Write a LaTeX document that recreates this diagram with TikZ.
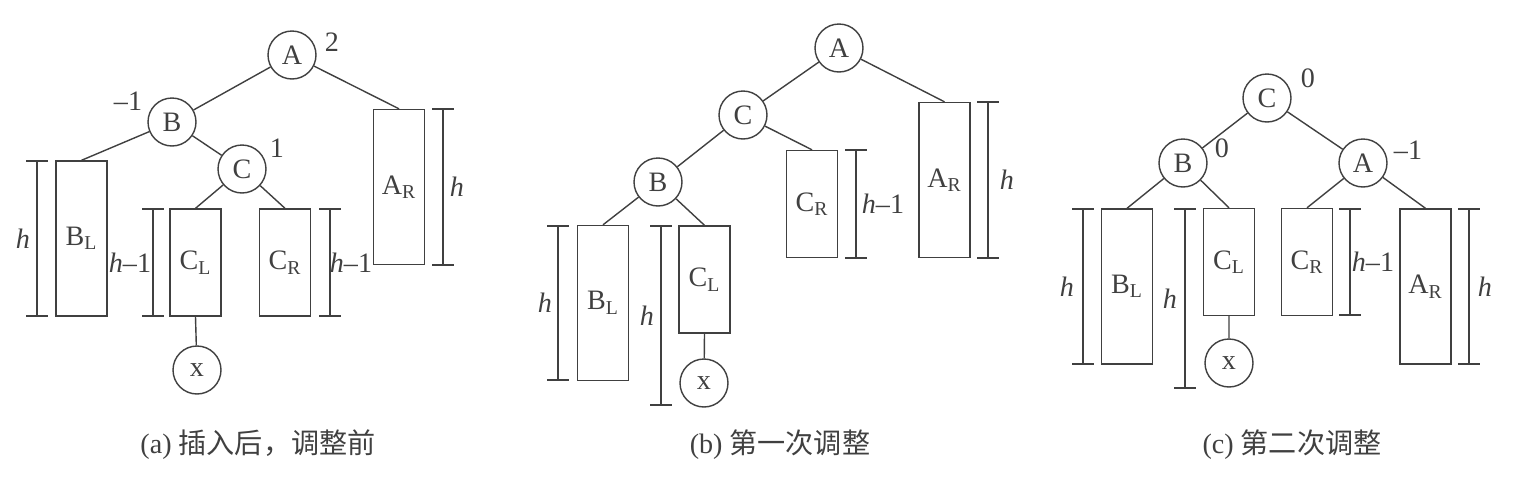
\documentclass[tikz,border=0pt]{standalone}
\usepackage{fontspec}
\setmainfont{Liberation Serif}
\newfontfamily\cjk{Noto Sans CJK SC}
\tikzset{
  vtx/.style={draw,circle,minimum size=0.96cm,inner sep=0pt},
  tallbox/.style={draw,rectangle,minimum width=1.02cm,minimum height=3.1cm,inner sep=0pt},
  shortbox/.style={draw,rectangle,minimum width=1.02cm,minimum height=2.14cm,inner sep=0pt},
}
\newcommand{\sub}[2]{#1\textsubscript{#2}}
% height mark: x, top, bottom, label x, label
\newcommand{\hmark}[5]{%
  \draw (#1-11,#2)--(#1+11,#2) (#1-11,#3)--(#1+11,#3) (#1,#2)--(#1,#3);
  \node at (#4,{(#2+#3)/2}) {#5};}
\begin{document}
\begin{tikzpicture}[x=0.02cm,y=-0.02cm,font=\fontsize{16}{19}\selectfont,
  color=black!75,line width=0.8pt]
\useasboundingbox (0,0) rectangle (1519,491);
% (a)
\node[vtx] (aA) at (292,55) {A};
\node[vtx] (aB) at (172,122) {B};
\node[vtx] (aC) at (242,169) {C};
\node[vtx] (ax) at (197,370) {x};
\node[tallbox] (aBL) at (81.5,238.5) {\sub{B}{L}};
\node[shortbox] (aCL) at (195.5,262.5) {\sub{C}{L}};
\node[shortbox] (aCR) at (285,262.5) {\sub{C}{R}};
\node[tallbox] (aAR) at (399,187) {\sub{A}{R}};
\draw (aA)--(aB) (aB)--(aC) (aB)--(aBL.north) (aC)--(aCL.north) (aC)--(aCR.north)
  (aA)--(aAR.north) (aCL.south)--(ax);
\node at (332,42) {2};
\node at (128,101) {–1};
\node at (277,148) {1};
\hmark{37}{161}{316}{23}{\textit{h}}
\hmark{153}{209}{316}{130}{\textit{h}–1}
\hmark{330}{209}{316}{351}{\textit{h}–1}
\hmark{443}{109}{265}{457}{\textit{h}}
\node (capa) at (258,445) {(a) {\cjk 插入后，调整前}};
% (b)
\node[vtx] (bA) at (839,48) {A};
\node[vtx] (bC) at (743,115) {C};
\node[vtx] (bB) at (658,182) {B};
\node[vtx] (bx) at (704,383) {x};
\node[tallbox] (bBL) at (603,303) {\sub{B}{L}};
\node[shortbox] (bCL) at (704.5,279.5) {\sub{C}{L}};
\node[shortbox] (bCR) at (812,204) {\sub{C}{R}};
\node[tallbox] (bAR) at (944.5,180) {\sub{A}{R}};
\draw (bA)--(bC) (bA)--(bAR.north) (bC)--(bB) (bC)--(bCR.north) (bB)--(bBL.north)
  (bB)--(bCL.north) (bCL.south)--(bx);
\hmark{558}{226}{380}{545}{\textit{h}}
\hmark{661}{226}{405}{647}{\textit{h}}
\hmark{856}{150}{258}{883}{\textit{h}–1}
\hmark{988}{102}{258}{1007}{\textit{h}}
\node (capb) at (780,445) {(b) {\cjk 第一次调整}};
% (c)
\node[vtx] (cC) at (1267,98) {C};
\node[vtx] (cB) at (1183,163) {B};
\node[vtx] (cA) at (1363,163) {A};
\node[vtx] (cx) at (1229,363) {x};
\node[tallbox] (cBL) at (1127,286.5) {\sub{B}{L}};
\node[shortbox] (cCL) at (1229,262) {\sub{C}{L}};
\node[shortbox] (cCR) at (1307,262) {\sub{C}{R}};
\node[tallbox] (cAR) at (1425.5,286.5) {\sub{A}{R}};
\draw (cC)--(cB) (cC)--(cA) (cB)--(cBL.north) (cB)--(cCL.north) (cA)--(cCR.north)
  (cA)--(cAR.north) (cCL.south)--(cx);
\node at (1308,78) {0};
\node at (1222,148) {0};
\node at (1408,150) {–1};
\hmark{1083}{209}{364}{1067}{\textit{h}}
\hmark{1185}{209}{388}{1170}{\textit{h}}
\hmark{1350}{209}{315}{1373}{\textit{h}–1}
\hmark{1469}{209}{364}{1485}{\textit{h}}
\node (capc) at (1292,445) {(c) {\cjk 第二次调整}};
\end{tikzpicture}
\end{document}
